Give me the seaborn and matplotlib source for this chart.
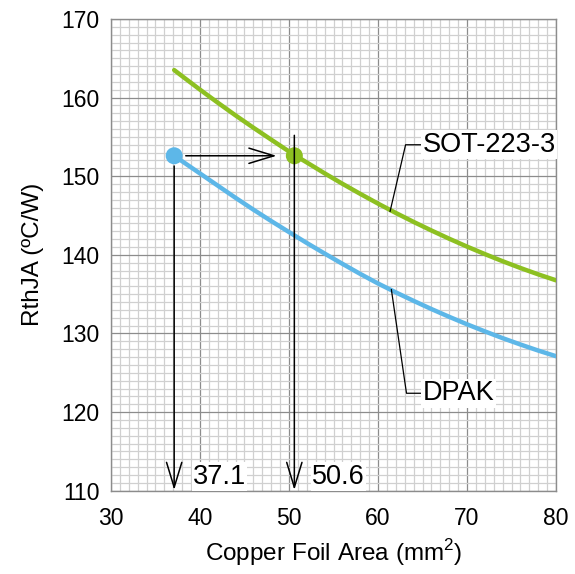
import matplotlib
matplotlib.use("Agg")
import matplotlib.pyplot as plt
from matplotlib.ticker import MultipleLocator
import pandas as pd
import seaborn as sns

# ==============================
# Data
# ==============================
area = [37.1, 38, 40, 42, 44, 46, 48, 50.6, 52, 54, 56, 58,
        60, 62, 64, 66, 68, 70, 72, 74, 76, 78, 80]
sot223 = [163.5, 162.72, 161.01, 159.35, 157.73, 156.17, 154.65, 152.7, 151.75, 150.37, 149.04, 147.76,
          146.52, 145.33, 144.19, 143.10, 142.05, 141.05, 140.10, 139.19, 138.33, 137.52, 136.76]
dpak = [152.6, 151.9, 150.35, 148.8, 147.25, 145.75, 144.3, 142.48, 141.51, 140.17, 138.86, 137.58,
        136.36, 135.23, 134.15, 133.11, 132.12, 131.17, 130.27, 129.41, 128.60, 127.83, 127.11]

rth_target = 152.6
area_dpak = 37.1
area_sot = 50.6
series_names = ["SOT-223-3", "DPAK"]

green = "#8DC021"
blue = "#5DB7E8"

sns.set_theme(style="white")
plt.rcParams['font.family'] = ['Liberation Sans', 'DejaVu Sans']
plt.rcParams['mathtext.fontset'] = 'custom'
plt.rcParams['mathtext.rm'] = 'Liberation Sans'
plt.rcParams['text.color'] = 'black'
plt.rcParams['axes.labelcolor'] = 'black'

fig = plt.figure(figsize=(5.75, 5.74), dpi=100)
ax = fig.add_axes([0.193, 0.145, 0.774, 0.822])

df = pd.DataFrame({"Area": area, "SOT": sot223, "DPAK": dpak})

sns.lineplot(data=df, x="Area", y="SOT", color=green, linewidth=3.2, ax=ax, zorder=3)
sns.lineplot(data=df, x="Area", y="DPAK", color=blue, linewidth=3.2, ax=ax, zorder=3)

pts = pd.DataFrame({"Area": [area_dpak, area_sot],
                    "Rth": [rth_target, rth_target],
                    "Pkg": ["DPAK", "SOT"]})
sns.scatterplot(data=pts, x="Area", y="Rth", hue="Pkg",
                palette={"DPAK": blue, "SOT": green},
                s=150, edgecolor="none", legend=False, ax=ax, zorder=4)

ax.set_xlim(30, 80)
ax.set_ylim(110, 170)
ax.xaxis.set_major_locator(MultipleLocator(10))
ax.yaxis.set_major_locator(MultipleLocator(10))
ax.xaxis.set_minor_locator(MultipleLocator(1))
ax.yaxis.set_minor_locator(MultipleLocator(1))
ax.grid(which="minor", color="#d0d0d0", linewidth=0.9, zorder=0)
ax.grid(which="major", color="#8c8c8c", linewidth=0.9, zorder=1)
ax.set_axisbelow(True)
ax.tick_params(which="both", length=0, labelsize=16.5, colors="black")
ax.tick_params(axis="y", pad=8)
ax.tick_params(axis="x", pad=12)
for sp in ax.spines.values():
    sp.set_color("#8c8c8c")
    sp.set_linewidth(1)

ax.set_xlabel("Copper Foil Area (mm$^\\mathrm{2}$)", fontsize=17.5, labelpad=5)
ax.set_ylabel("RthJA (ºC/W)", fontsize=17.5, labelpad=13)

# arrows
arrow = dict(arrowstyle="->, head_length=1.8, head_width=0.55",
             color="black", lw=1.1, mutation_scale=10, shrinkA=0, shrinkB=0)
ax.annotate("", xy=(48.6, rth_target), xytext=(38.4, rth_target), arrowprops=arrow, zorder=5)
ax.annotate("", xy=(area_dpak, 110.1), xytext=(area_dpak, 151.3), arrowprops=arrow, zorder=5)
ax.annotate("", xy=(area_sot, 110.1), xytext=(area_sot, 155.2), arrowprops=arrow, zorder=5)

box = dict(facecolor="white", edgecolor="none", pad=1)
ax.text(39.2, 111.8, f"{area_dpak}", fontsize=19.5, va="center", ha="left", bbox=box, zorder=6)
ax.text(52.6, 111.8, f"{area_sot}", fontsize=19.5, va="center", ha="left", bbox=box, zorder=6)

# leader lines
ax.plot([61.35, 63.1, 64.8], [145.5, 154.0, 154.0], color="black", lw=0.9, zorder=5)
ax.text(65.0, 154.0, series_names[0], fontsize=19.5, va="center", ha="left", bbox=box, zorder=6)
ax.plot([61.5, 63.2, 64.8], [135.6, 122.4, 122.4], color="black", lw=0.9, zorder=5)
ax.text(65.0, 122.4, series_names[1], fontsize=19.5, va="center", ha="left", bbox=box, zorder=6)

fig.savefig("out.png", dpi=100)
